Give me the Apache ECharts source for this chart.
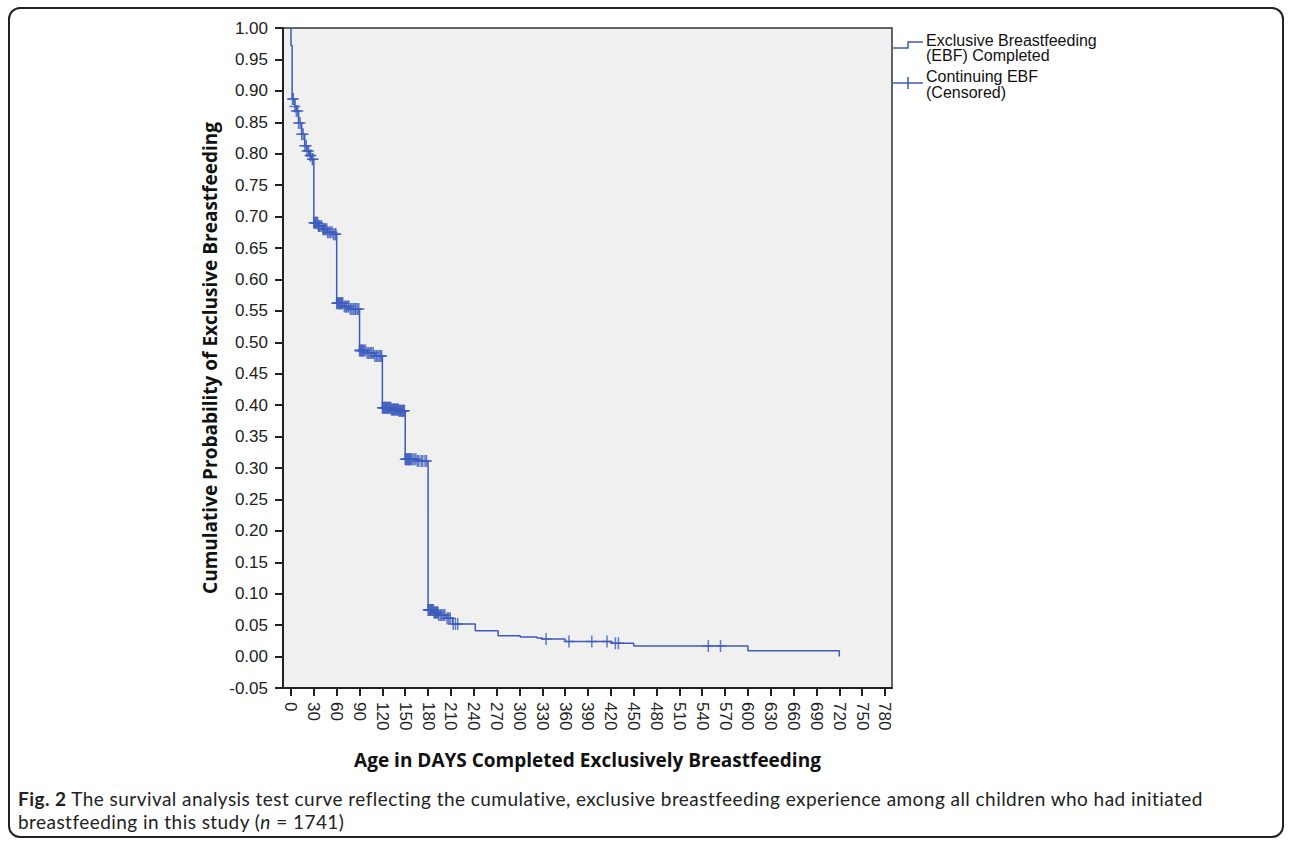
<!DOCTYPE html>
<html>
<head>
<meta charset="utf-8">
<script src="https://cdn.jsdelivr.net/npm/echarts@6/dist/echarts.min.js"></script>
<style>
  html, body { margin:0; padding:0; background:#fff; }
  #frame { position:absolute; left:8px; top:7px; width:1276px; height:831px; border:2px solid #222; border-radius:12px; box-sizing:border-box; }
  #chart { position:absolute; left:0; top:0; width:1293px; height:843px; }
  #caption { position:absolute; left:18px; top:787px; width:1262px; font-family:'Lato','Open Sans',sans-serif; font-size:19px; letter-spacing:0.45px; line-height:23px; color:#222; white-space:nowrap; }
</style>
</head>
<body>
<div id="frame"></div>
<div id="chart"></div>
<div id="caption"><b>Fig. 2</b> The survival analysis test curve reflecting the cumulative, exclusive breastfeeding experience among all children who had initiated<br>breastfeeding in this study (<i>n</i>&nbsp;=&nbsp;1741)</div>
<script>
// ---- data ----
const eventDays = [0, 0, 1.5, 5, 7, 10, 14, 18, 21, 24, 27, 30, 36, 42, 48, 55, 60, 70, 78, 90, 100, 110, 120, 132, 142, 150, 165, 180, 188, 194, 204, 212, 242, 272, 301, 323, 330, 360, 421, 450, 600, 720];
const survival  = [1.0, 0.972, 0.887, 0.875, 0.868, 0.849, 0.831, 0.8125, 0.8045, 0.797, 0.791, 0.690, 0.685, 0.680, 0.675, 0.672, 0.562, 0.557, 0.553, 0.487, 0.483, 0.478, 0.396, 0.393, 0.391, 0.314, 0.311, 0.074, 0.070, 0.066, 0.061, 0.052, 0.041, 0.033, 0.031, 0.0295, 0.028, 0.024, 0.021, 0.017, 0.0094, 0.0];
const censoredDays = [
  2, 3, 5, 7, 9, 10, 12, 14, 16, 18, 20, 21, 23, 25, 26, 28, 29,
  30, 31, 32, 33, 34, 35, 36, 37, 38, 40, 42, 43, 44, 45, 47, 48, 50, 52, 54, 56, 58, 59,
  60, 61, 62, 63, 64, 65, 66, 67, 68, 70, 72, 73, 75, 76, 78, 80, 82, 84, 85, 87, 89,
  90, 91, 92, 93, 94, 95, 96, 98, 100, 102, 104, 106, 108, 110, 112, 114, 116, 118, 119,
  120, 121, 122, 123, 124, 125, 126, 127, 128, 129, 130, 131, 132, 133, 134, 135, 136, 137, 138, 139, 140, 141, 142, 143, 144, 145, 146, 147, 148, 149,
  150, 151, 152, 153, 154, 155, 156, 157, 158, 160, 162, 164, 166, 168, 171, 173, 176, 178,
  180, 181, 182, 183, 184, 185, 186, 187, 188, 189, 190, 191, 192, 193, 194, 196, 198, 200, 202, 205, 207, 209,
  213, 216, 219,
  335, 365, 395, 415, 426, 430, 548, 564
];
const xTicks = [0, 30, 60, 90, 120, 150, 180, 210, 240, 270, 300, 330, 360, 390, 420, 450, 480, 510, 540, 570, 600, 630, 660, 690, 720, 750, 780];
const xTitle = 'Age in DAYS Completed Exclusively Breastfeeding';
const yTitle = 'Cumulative Probability of Exclusive Breastfeeding';
const legendLabels = ['Exclusive Breastfeeding\n(EBF) Completed', 'Continuing EBF\n(Censored)'];

// ---- build ----
const BLUE = '#3c5bbd';
function survivalAt(t) {
  let v = survival[0];
  for (let i = 0; i < eventDays.length; i++) { if (eventDays[i] <= t) v = survival[i]; }
  return v;
}
const lineData = eventDays.map((d, i) => [d, survival[i]]);
const censData = censoredDays.map(d => [d, survivalAt(d)]);
const plus = 'path://M4.75,0H6.25V12H4.75Z M0,5.25H11V6.75H0Z';
const labFont = "'Liberation Sans', Arial, sans-serif";
const titleFont = "'Open Sans', sans-serif";

const chart = echarts.init(document.getElementById('chart'), null, {renderer:'svg'});
chart.setOption({
  animation: false,
  grid: { left: 283, top: 28, width: 609, height: 660, show: true, backgroundColor: '#f0f0f0', borderColor: '#333', borderWidth: 1.5 },
  xAxis: {
    type: 'value', min: -10.5, max: 789.2,
    axisLine: { show: true, onZero: false, lineStyle: { color: '#222', width: 2 } },
    axisTick: { show: true, customValues: xTicks, length: 8, lineStyle: { color: '#222', width: 2 } },
    axisLabel: { customValues: xTicks, rotate: -90, margin: 14, fontSize: 17, color: '#222', fontFamily: labFont },
    splitLine: { show: false },
    name: xTitle, nameLocation: 'middle', nameGap: 62,
    nameTextStyle: { fontFamily: titleFont, fontWeight: 'bold', fontSize: 19, color: '#111' }
  },
  yAxis: {
    type: 'value', min: -0.05, max: 1.0, interval: 0.05,
    axisLine: { show: true, onZero: false, lineStyle: { color: '#222', width: 2 } },
    axisTick: { show: true, length: 8, lineStyle: { color: '#222', width: 2 } },
    axisLabel: { margin: 15, fontSize: 17, color: '#222', fontFamily: labFont,
      formatter: v => (Math.abs(v) < 1e-9 ? 0 : v).toFixed(2) },
    splitLine: { show: false },
    name: yTitle, nameLocation: 'middle', nameGap: 64,
    nameTextStyle: { fontFamily: titleFont, fontWeight: 'bold', fontSize: 19, color: '#111' }
  },
  series: [
    { type: 'line', data: lineData, step: 'end', showSymbol: false, symbol: 'none',
      lineStyle: { color: BLUE, width: 1.5 }, z: 3 },
    { type: 'scatter', data: censData, symbol: plus, symbolSize: [11, 12],
      itemStyle: { color: BLUE }, z: 4 }
  ],
  graphic: [
    { type: 'polyline', shape: { points: [[893, 48], [908, 48], [908, 42], [923, 42]] }, style: { stroke: BLUE, lineWidth: 1.5, fill: null } },
    { type: 'text', left: 926, top: 32, style: { text: legendLabels[0], font: "16px 'Liberation Sans', Arial, sans-serif", lineHeight: 15.5, fill: '#111' } },
    { type: 'line', shape: { x1: 893, y1: 83, x2: 923, y2: 83 }, style: { stroke: BLUE, lineWidth: 1.5 } },
    { type: 'line', shape: { x1: 908, y1: 77, x2: 908, y2: 89 }, style: { stroke: BLUE, lineWidth: 1.5 } },
    { type: 'text', left: 926, top: 68.5, style: { text: legendLabels[1], font: "16px 'Liberation Sans', Arial, sans-serif", lineHeight: 15.5, fill: '#111' } }
  ]
});
</script>
</body>
</html>
